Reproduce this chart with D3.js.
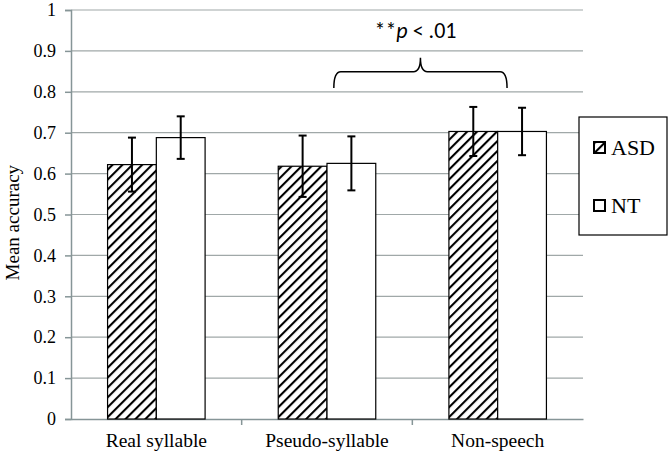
<!DOCTYPE html>
<html>
<head>
<script src="https://cdnjs.cloudflare.com/ajax/libs/d3/7.8.5/d3.min.js"></script>
<style>
  body, html { margin: 0; padding: 0; background: #fff; }
  svg { display: block; }
</style>
</head>
<body>
<div id="chart"></div>
<script>
// data
const categories = ["Real syllable", "Pseudo-syllable", "Non-speech"];
const groups = ["ASD", "NT"];
const asdMean = [0.622, 0.618, 0.703];
const asdErr = [0.066, 0.075, 0.060];
const ntMean = [0.688, 0.625, 0.703];
const ntErr = [0.052, 0.066, 0.058];
const yTicks = [0, 0.1, 0.2, 0.3, 0.4, 0.5, 0.6, 0.7, 0.8, 0.9, 1];

const W = 669, H = 454;
const margin = {left: 71, right: 86, top: 10, bottom: 35};
const SERIF = "'Liberation Serif', 'DejaVu Serif', 'Times New Roman', serif";

const rows = [];
categories.forEach((c, i) => {
  rows.push({cat: c, group: "ASD", mean: asdMean[i], err: asdErr[i]});
  rows.push({cat: c, group: "NT", mean: ntMean[i], err: ntErr[i]});
});

const svg = d3.select("#chart").append("svg")
  .attr("width", W).attr("height", H);

const defs = svg.append("defs");
const pat = defs.append("pattern")
  .attr("id", "hatch")
  .attr("patternUnits", "userSpaceOnUse")
  .attr("width", 7).attr("height", 7)
  .attr("patternTransform", "rotate(45)");
pat.append("rect").attr("width", 7).attr("height", 7).attr("fill", "#fff");
pat.append("line").attr("x1", 0).attr("y1", 0).attr("x2", 0).attr("y2", 7)
  .attr("stroke", "#000").attr("stroke-width", 4.2);

const x = d3.scaleBand()
  .domain(categories)
  .range([margin.left, W - margin.right]);

const xInner = d3.scaleBand()
  .domain(groups)
  .range([0, x.bandwidth()])
  .paddingOuter(0.75)
  .paddingInner(0);

const y = d3.scaleLinear()
  .domain([0, 1])
  .range([H - margin.bottom, margin.top]);

// gridlines
svg.append("g")
  .selectAll("line")
  .data(yTicks.slice(1))
  .join("line")
    .attr("x1", margin.left).attr("x2", W - margin.right)
    .attr("y1", d => y(d)).attr("y2", d => y(d))
    .attr("stroke", "#a0a8a8").attr("stroke-width", 1.2);

// y axis
const yAxis = svg.append("g")
  .attr("transform", `translate(${margin.left},0)`)
  .call(d3.axisLeft(y).tickValues(yTicks).tickSize(6).tickPadding(9)
    .tickFormat(d => d === 0 || d === 1 ? d3.format("d")(d) : d3.format(".1f")(d)));
yAxis.select(".domain").attr("stroke", "#869597").attr("stroke-width", 1.5);
yAxis.selectAll(".tick line").attr("stroke", "#869597").attr("stroke-width", 1.5);
yAxis.selectAll("text")
  .style("font-family", SERIF)
  .style("font-size", "18px").attr("fill", "#000");

// x axis
const xAxis = svg.append("g")
  .attr("transform", `translate(0,${y(0)})`)
  .call(d3.axisBottom(x).tickSize(0).tickPadding(14));
xAxis.select(".domain").attr("stroke", "#869597").attr("stroke-width", 1.5);
xAxis.selectAll("text")
  .style("font-family", SERIF)
  .style("font-size", "19.5px").attr("fill", "#000");
// category separator ticks
svg.append("g")
  .selectAll("line")
  .data(categories.slice(1))
  .join("line")
    .attr("x1", d => x(d)).attr("x2", d => x(d))
    .attr("y1", y(0)).attr("y2", y(0) + 6)
    .attr("stroke", "#869597").attr("stroke-width", 1.5);

// bars
const bars = svg.append("g")
  .selectAll("g")
  .data(rows)
  .join("g")
    .attr("transform", d => `translate(${x(d.cat) + xInner(d.group)},0)`);

bars.append("rect")
  .attr("y", d => y(d.mean))
  .attr("width", xInner.bandwidth())
  .attr("height", d => y(0) - y(d.mean))
  .attr("fill", d => d.group === "ASD" ? "url(#hatch)" : "#fff")
  .attr("stroke", "#000").attr("stroke-width", 1.2);

// error bars
const cx = xInner.bandwidth() / 2;
bars.append("line")
  .attr("x1", cx).attr("x2", cx)
  .attr("y1", d => y(d.mean + d.err)).attr("y2", d => y(d.mean - d.err))
  .attr("stroke", "#000").attr("stroke-width", 2);
bars.append("line")
  .attr("x1", cx - 4).attr("x2", cx + 4)
  .attr("y1", d => y(d.mean + d.err)).attr("y2", d => y(d.mean + d.err))
  .attr("stroke", "#000").attr("stroke-width", 2);
bars.append("line")
  .attr("x1", cx - 4).attr("x2", cx + 4)
  .attr("y1", d => y(d.mean - d.err)).attr("y2", d => y(d.mean - d.err))
  .attr("stroke", "#000").attr("stroke-width", 2);

// y label
svg.append("text")
  .attr("transform", `translate(19,${y(0.48)}) rotate(-90)`)
  .attr("text-anchor", "middle")
  .style("font-family", SERIF)
  .style("font-size", "19px")
  .text("Mean accuracy");

// significance brace between Pseudo-syllable and Non-speech
const bx1 = x("Pseudo-syllable") + x.bandwidth() * 0.54;
const bx2 = x("Non-speech") + x.bandwidth() * 0.555;
const bm = (bx1 + bx2) / 2;
const byEnd = y(0.809), byMid = y(0.849), byTip = y(0.883);
const r = 7;
svg.append("path")
  .attr("d", `M${bx1},${byEnd} Q${bx1},${byMid} ${bx1 + r},${byMid} L${bm - r},${byMid} Q${bm},${byMid} ${bm},${byTip}
              Q${bm},${byMid} ${bm + r},${byMid} L${bx2 - r},${byMid} Q${bx2},${byMid} ${bx2},${byEnd}`)
  .attr("fill", "none").attr("stroke", "#000").attr("stroke-width", 1.5);

const sig = svg.append("text")
  .attr("x", bm - 5).attr("y", 38)
  .attr("text-anchor", "middle")
  .style("font-family", "Carlito, 'Open Sans', 'Liberation Sans', sans-serif")
  .style("font-size", "22px");
sig.append("tspan").text("**");
sig.append("tspan").style("font-style", "italic").text("p");
sig.append("tspan").text(" < .01");

// legend
const lg = svg.append("g").attr("transform", "translate(579,117)");
lg.append("rect").attr("width", 88).attr("height", 118)
  .attr("fill", "#fff").attr("stroke", "#000").attr("stroke-width", 1.2);
const items = lg.selectAll("g.item")
  .data(groups)
  .join("g")
    .attr("class", "item")
    .attr("transform", (d, i) => `translate(15,${25 + i * 58})`);
items.append("rect")
  .attr("width", 11).attr("height", 11)
  .attr("fill", d => d === "ASD" ? "url(#hatch)" : "#fff")
  .attr("stroke", "#000").attr("stroke-width", 2);
items.append("text")
  .attr("x", 17).attr("y", 13)
  .style("font-family", SERIF)
  .style("font-size", "22px")
  .text(d => d);
</script>
</body>
</html>
